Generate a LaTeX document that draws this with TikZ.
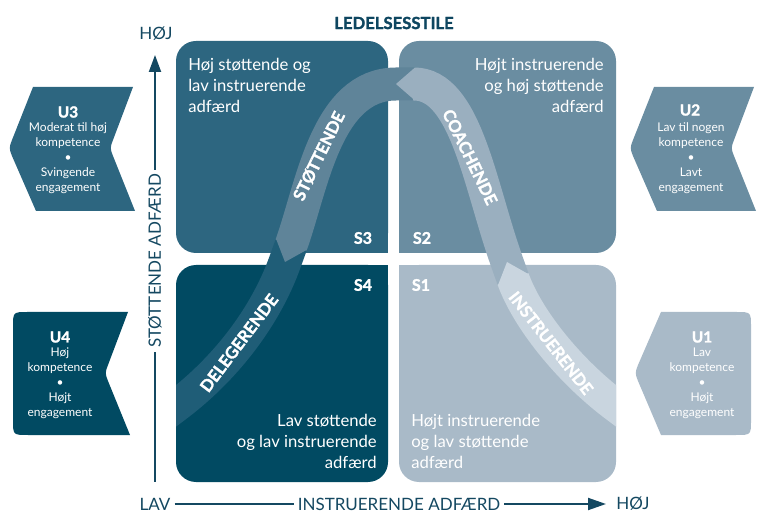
\documentclass[tikz,border=0pt]{standalone}
\usepackage{fontspec}
\setmainfont{Lato}
\newfontfamily\heavyfont{Lato}[FakeBold=1.6]
\usetikzlibrary{arrows.meta}

\begin{document}
\begin{tikzpicture}[x=0.75pt,y=0.75pt,yscale=-1,xscale=1,
    s3fill/.style={fill={rgb, 255:red, 45; green, 102; blue, 128}},
    s2fill/.style={fill={rgb, 255:red, 106; green, 141; blue, 161}},
    s4fill/.style={fill={rgb, 255:red, 1; green, 74; blue, 98}},
    s1fill/.style={fill={rgb, 255:red, 169; green, 186; blue, 200}},
    band/.style={line width=24.75pt},
    qtext/.style={inner sep=0pt, font=\fontsize{12.5}{15.75}\selectfont, text=white},
    axtext/.style={inner sep=3pt, font=\fontsize{12.75}{15}\selectfont, color={rgb, 255:red, 20; green, 72; blue, 97}},
    axline/.style={line width=1.5pt, color={rgb, 255:red, 20; green, 72; blue, 97}},
    slabel/.style={font=\fontsize{12}{14}\selectfont\heavyfont\bfseries, text=white},
    rtext/.style={font=\fontsize{12.5}{14}\selectfont\heavyfont\bfseries, text=white},
    utitle/.style={font=\fontsize{11.5}{14}\selectfont\heavyfont\bfseries, text=white},
    utext/.style={align=center, font=\fontsize{9}{11.25}\selectfont, text=white}]
        \useasboundingbox (0,0) rectangle (768,520);
        % Quadrant S3
        \fill [s3fill, rounded corners=15pt] (176,41) rectangle (388,253);
        \fill [s3fill] (300,160) rectangle (388,253);
        % Quadrant S2
        \fill [s2fill, rounded corners=15pt] (399,41) rectangle (616,253);
        \fill [s2fill] (399,160) rectangle (480,253);
        % Quadrant S4
        \fill [s4fill, rounded corners=15pt] (176,265) rectangle (388,482);
        \fill [s4fill] (300,265) rectangle (388,360);
        % Quadrant S1
        \fill [s1fill, rounded corners=15pt] (399,265) rectangle (616,482);
        \fill [s1fill] (399,265) rectangle (480,360);
        % Ribbon
        \begin{scope}
        \clip (176,0) rectangle (616,520);
        % Band S4
        \draw [band, color={rgb, 255:red, 31; green, 93; blue, 119}] (291.8,243.2) -- (285,262) .. controls (265,318) and (224,370) .. (176,406) -- (152,424);
        % Band S3
        \draw [band, shorten >=13.5pt, color={rgb, 255:red, 95; green, 132; blue, 153}] (416,84) -- (396,84) .. controls (326,84) and (312,187) .. (285,262);
        \fill [color={rgb, 255:red, 95; green, 132; blue, 153}] (307,249.7) -- (285,262) -- (275.9,238.5) -- cycle;
        % Band S2
        \draw [band, shorten >=13.5pt, color={rgb, 255:red, 154; green, 175; blue, 191}] (513.7,280.8) -- (507,262) .. controls (480,187) and (466,84) .. (396,84);
        \fill [color={rgb, 255:red, 154; green, 175; blue, 191}] (415,67.5) -- (396,84) -- (415,100.5) -- cycle;
        % Band S1
        \draw [band, shorten >=13.5pt, color={rgb, 255:red, 201; green, 213; blue, 223}] (640,424) -- (616,406) .. controls (568,370) and (527,318) .. (507,262);
        \fill [color={rgb, 255:red, 201; green, 213; blue, 223}] (528.9,274.4) -- (507,262) -- (497.9,285.4) -- cycle;
        \end{scope}
        % Ribbon labels
        \draw (319,156) node (stot) [rtext, rotate=64] {STØTTENDE};
        \draw (470,157) node (coach) [rtext, rotate=-64] {COACHENDE};
        \draw (239,343) node (deleg) [rtext, rotate=53] {DELEGERENDE};
        \draw (551,343) node (instr) [rtext, rotate=-52] {INSTRUERENDE};
        % Quadrant texts
        \draw (188,58) node (s3txt) [qtext, anchor=north west, align=left] {Høj støttende og\\lav instruerende\\adfærd};
        \draw (604,58) node (s2txt) [qtext, anchor=north east, align=right] {Højt instruerende\\og høj støttende\\adfærd};
        \draw (377,414) node (s4txt) [qtext, anchor=north east, align=right] {Lav støttende\\og lav instruerende\\adfærd};
        \draw (411,414) node (s1txt) [qtext, anchor=north west, align=left] {Højt instruerende\\og lav støttende\\adfærd};
        % Style labels
        \draw (363,238) node (s3) [slabel] {S3};
        \draw (422,238) node (s2) [slabel] {S2};
        \draw (363,285) node (s4) [slabel] {S4};
        \draw (421,285) node (s1) [slabel] {S1};
        % Title
        \draw (394,23) node (ttl) [font=\fontsize{12.5}{15}\selectfont\heavyfont\bfseries, color={rgb, 255:red, 14; green, 70; blue, 96}] {LEDELSESSTILE};
        % Axes
        \draw (156,34) node (ytop) [axtext] {HØJ};
        \draw (155,261) node (ylbl) [axtext, rotate=90] {STØTTENDE ADFÆRD};
        \coordinate (yarrow) at (155,55);
        \coordinate (yfoot) at (155,482);
        \draw [axline, -{Triangle[length=12.75pt,width=9pt]}] (ylbl.east) -- (yarrow);
        \draw [axline] (ylbl.west) -- (yfoot);
        \draw (155,504) node (xlow) [axtext] {LAV};
        \draw (399,504) node (xlbl) [axtext] {INSTRUERENDE ADFÆRD};
        \draw (633,504) node (xhigh) [axtext] {HØJ};
        \coordinate (xarrow) at (606,504);
        \draw [axline] (xlow.east) -- (xlbl.west);
        \draw [axline, -{Triangle[length=13.5pt,width=9pt]}] (xlbl.east) -- (xarrow);
        % Readiness U3
        \fill [s3fill] (33,87) -- (133,87) -- (113,140) .. controls (110,148) .. (113,156) -- (135,211) -- (36,211) -- (12,156) .. controls (9,148) .. (12,140) -- cycle;
        \draw (68,112) node (u3) [utitle] {U3};
        \draw (68,158) node (u3txt) [utext] {Moderat til høj\\kompetence\\\textbullet\\Svingende\\engagement};
        % Readiness U2
        \fill [s2fill] (654,87) -- (754,87) -- (734,140) .. controls (731,148) .. (734,156) -- (756,211) -- (657,211) -- (633,156) .. controls (630,148) .. (633,140) -- cycle;
        \draw (690,110) node (u2) [utitle] {U2};
        \draw (691,158) node (u2txt) [utext] {Lav til nogen\\kompetence\\\textbullet\\Lavt\\engagement};
        % Readiness U4
        \fill [s4fill] (28,312) -- (128,312) -- (108,365) .. controls (105,373) .. (108,381) -- (130,435) -- (28,435) .. controls (13,435) .. (13,420) -- (13,327) .. controls (13,312) .. (28,312) -- cycle;
        \draw (60,337) node (u4) [utitle] {U4};
        \draw (60,383) node (u4txt) [utext] {Høj\\kompetence\\\textbullet\\Højt\\engagement};
        % Readiness U1
        \fill [s1fill] (661,312) -- (736,312) .. controls (751,312) .. (751,327) -- (751,420) .. controls (751,435) .. (736,435) -- (661,435) -- (638,381) .. controls (635,373) .. (638,365) -- cycle;
        \draw (702,337) node (u1) [utitle] {U1};
        \draw (702,383) node (u1txt) [utext] {Lav\\kompetence\\\textbullet\\Højt\\engagement};
    \end{tikzpicture}
\end{document}
